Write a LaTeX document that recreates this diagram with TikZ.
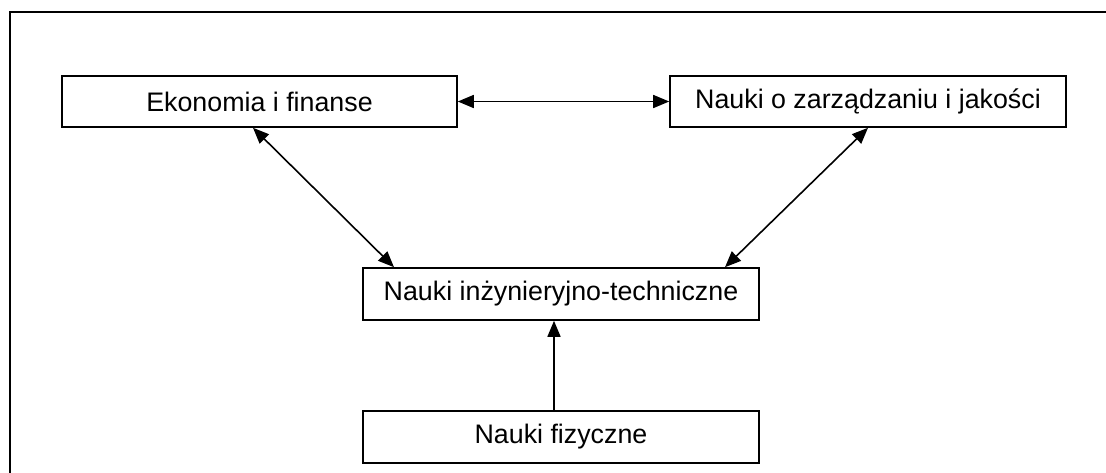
\documentclass[tikz,border=0pt]{standalone}
\usepackage{fontspec}
\setmainfont{Liberation Sans}
\usetikzlibrary{arrows.meta}
\begin{document}
\begin{tikzpicture}[x=1pt,y=-1pt,
  box/.style={draw, line width=1.6pt, inner sep=0pt, minimum height=51pt,
    font=\fontsize{26.8}{32}\selectfont, anchor=center},
  tip/.style={Triangle[length=16pt,width=13pt]},
  link/.style={line width=1.6pt, -{Triangle[length=16pt,width=13pt]}},
  blink/.style={line width=1.6pt, {Triangle[length=16pt,width=13pt]}-{Triangle[length=16pt,width=13pt]}}]
  \useasboundingbox (0,0) rectangle (1106,472);
  \begin{scope}
    \clip (0,0) rectangle (1106,472);
    % outer frame, running past the page on the right and bottom
    \draw[line width=2.2pt] (10,12) rectangle (1130,500);
  \end{scope}
  \node[box, minimum width=395pt] (eko)  at (259.5,101.5) {Ekonomia i finanse};
  \node[box, minimum width=396pt] (zarz) at (868,101.5) {Nauki o zarządzaniu i jakości};
  \node[box, minimum width=396pt, minimum height=52pt] (inz) at (561,294) {Nauki inżynieryjno-techniczne};
  \node[box, minimum width=396pt, minimum height=52pt] (fiz) at (561,437) {Nauki fizyczne};
  \draw[blink] (eko.east) -- (zarz.west);
  \draw[blink] ([xshift=-6.5pt]eko.south) -- ([xshift=-167pt]inz.north);
  \draw[blink] (zarz.south) -- ([xshift=164pt]inz.north);
  \draw[link] ([xshift=-7pt]fiz.north) -- ([xshift=-7pt]inz.south);
\end{tikzpicture}
\end{document}
